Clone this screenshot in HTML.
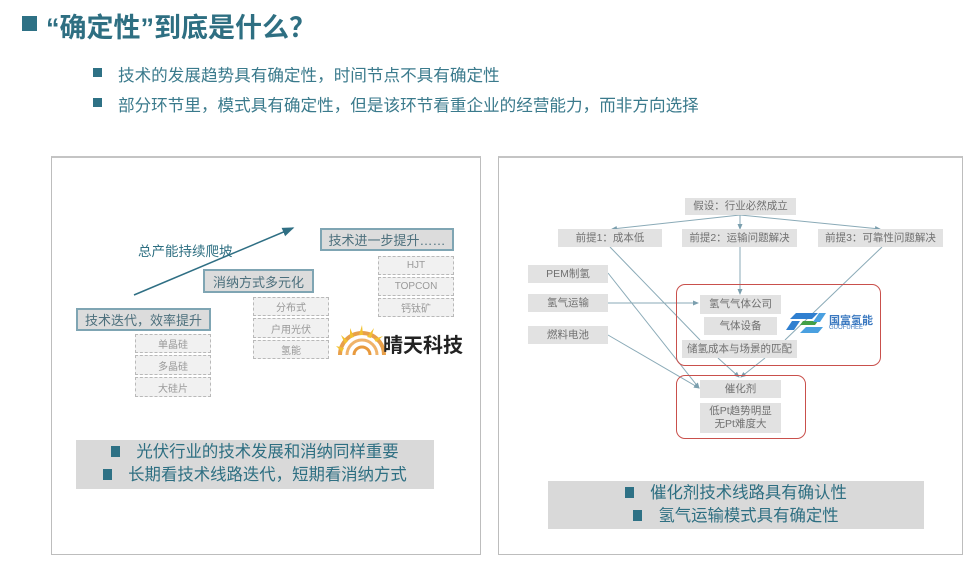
<!DOCTYPE html>
<html><head><meta charset="utf-8"><style>
*{margin:0;padding:0;box-sizing:border-box}
body{width:980px;height:567px;background:#fff;position:relative;overflow:hidden;font-family:"Liberation Sans","Noto Sans CJK SC",sans-serif}
.a{position:absolute}
.sq{position:absolute;background:#2e7185}
.panel{position:absolute;border:1px solid #bdbdbd;border-top:2px solid #c4c4c4;background:#fff}
.bx{position:absolute;background:#dcdcdc;border:2px solid #7fa5b3;color:#4c6f7c;font-size:13px;display:flex;align-items:center;justify-content:center}
.db{position:absolute;background:#f1f1f1;border:1px dashed #b9b9b9;color:#999;font-size:10px;display:flex;align-items:center;justify-content:center}
.g{position:absolute;background:#e2e2e2;color:#707070;font-size:10.5px;display:flex;align-items:center;justify-content:center;text-align:center;line-height:13px}
.red{position:absolute;border:1.5px solid #c9504c;border-radius:9px}
.sum{position:absolute;background:#d9d9d9;color:#2e6f82;font-size:16.4px;line-height:23px;text-align:center}
.sum i{display:inline-block;width:9px;height:11px;background:#2e7185;margin-right:16px;vertical-align:0px}
</style></head><body>
<div class="sq" style="left:22px;top:16px;width:15px;height:15px"></div>
<div class="a" style="left:46px;top:6px;font-size:27px;font-weight:bold;color:#2e6f82">“确定性”到底是什么？</div>
<div class="sq" style="left:93px;top:68px;width:9px;height:9px"></div>
<div class="a" style="left:118px;top:62px;font-size:16.6px;color:#3a7a8c">技术的发展趋势具有确定性，时间节点不具有确定性</div>
<div class="sq" style="left:93px;top:98px;width:9px;height:9px"></div>
<div class="a" style="left:118px;top:92px;font-size:16.6px;color:#3a7a8c">部分环节里，模式具有确定性，但是该环节看重企业的经营能力，而非方向选择</div>

<div class="panel" style="left:51px;top:156px;width:430px;height:399px"></div>
<div class="panel" style="left:498px;top:156px;width:465px;height:399px"></div>

<svg class="a" style="left:0;top:0" width="980" height="567">
<defs><marker id="m" markerWidth="8" markerHeight="8" refX="7" refY="4" orient="auto"><path d="M0,1 L8,4 L0,7z" fill="#2f6f84"/></marker>
<marker id="s" markerWidth="6" markerHeight="6" refX="5" refY="3" orient="auto"><path d="M0,0.5 L6,3 L0,5.5z" fill="#7b9fae"/></marker></defs>
<line x1="134" y1="295" x2="293" y2="228" stroke="#2f6f84" stroke-width="1.5" marker-end="url(#m)"/>
<g stroke="#8aaab7" stroke-width="1" fill="none">
<line x1="740" y1="215" x2="612" y2="229" marker-end="url(#s)"/>
<line x1="740" y1="215" x2="740" y2="229" marker-end="url(#s)"/>
<line x1="740" y1="215" x2="880" y2="229" marker-end="url(#s)"/>
<line x1="740" y1="247" x2="740" y2="294" marker-end="url(#s)"/>
<line x1="610" y1="247" x2="700" y2="340"/>
<line x1="882" y1="247" x2="785" y2="340"/>
<line x1="608" y1="303" x2="698" y2="303" marker-end="url(#s)"/>
<line x1="608" y1="273" x2="699" y2="388" marker-end="url(#s)"/>
<line x1="608" y1="335" x2="699" y2="388" marker-end="url(#s)"/>
<line x1="718" y1="358" x2="739" y2="377" marker-end="url(#s)"/>
<line x1="765" y1="358" x2="741" y2="377" marker-end="url(#s)"/>
</g>
<g>
<path d="M340,355 A22,22 0 0 1 384,355" fill="none" stroke="#e8a04a" stroke-width="4"/>
<path d="M347,355 A15,15 0 0 1 377,355" fill="none" stroke="#f0b36a" stroke-width="3"/>
<path d="M354,355 A8,8 0 0 1 370,355" fill="none" stroke="#e89a3e" stroke-width="3"/>
<g fill="#f2c230"><polygon points="336,346 344,348 342,352"/><polygon points="341,335 348,341 345,344"/><polygon points="350,328 354,337 350,338"/><polygon points="362,325 363,335 359,335"/><polygon points="374,328 371,338 367,337"/><polygon points="383,336 376,342 374,339"/></g>
</g>
<g>
<polygon points="796,313 818,313 812,319 790,319" fill="#2f7fd0"/>
<polygon points="792,321 800,321 794,330 786,330" fill="#2f7fd0"/>
<polygon points="803,321 818,321 815,325 800,325" fill="#43a047"/>
<polygon points="806,327 823,327 818,333 800,333" fill="#4aa0e0"/>
<polygon points="819,313 826,313 820,322 813,322" fill="#4aa0e0"/>
</g>
</svg>
<div class="a" style="left:829px;top:312px;font-size:11px;font-weight:bold;color:#3a78c0;letter-spacing:0">国富氢能</div>
<div class="a" style="left:829px;top:325px;font-size:6px;color:#3a78c0">GUOFUHEE</div>
<div class="a" style="left:383px;top:329px;font-size:20px;font-weight:bold;color:#222">晴天科技</div>

<div class="a" style="left:138px;top:240px;font-size:13.5px;color:#2e6f82">总产能持续爬坡</div>
<div class="bx" style="left:320px;top:228px;width:134px;height:23px">技术进一步提升……</div>
<div class="db" style="left:378px;top:256px;width:76px;height:19px">HJT</div>
<div class="db" style="left:378px;top:277px;width:76px;height:19px">TOPCON</div>
<div class="db" style="left:378px;top:298px;width:76px;height:19px">钙钛矿</div>
<div class="bx" style="left:203px;top:269px;width:111px;height:24px">消纳方式多元化</div>
<div class="db" style="left:253px;top:297px;width:76px;height:19px">分布式</div>
<div class="db" style="left:253px;top:318px;width:76px;height:20px">户用光伏</div>
<div class="db" style="left:253px;top:340px;width:76px;height:19px">氢能</div>
<div class="bx" style="left:76px;top:308px;width:135px;height:23px">技术迭代，效率提升</div>
<div class="db" style="left:135px;top:334px;width:76px;height:19px">单晶硅</div>
<div class="db" style="left:135px;top:355px;width:76px;height:20px">多晶硅</div>
<div class="db" style="left:135px;top:377px;width:76px;height:20px">大硅片</div>
<div class="sum" style="left:76px;top:440px;width:358px;height:49px;padding-top:1px"><i></i>光伏行业的技术发展和消纳同样重要<br><i></i>长期看技术线路迭代，短期看消纳方式</div>

<div class="red" style="left:676px;top:284px;width:205px;height:82px"></div>
<div class="red" style="left:676px;top:375px;width:130px;height:64px"></div>
<div class="g" style="left:685px;top:198px;width:111px;height:17px">假设：行业必然成立</div>
<div class="g" style="left:558px;top:229px;width:104px;height:18px">前提1：成本低</div>
<div class="g" style="left:682px;top:229px;width:115px;height:18px">前提2：运输问题解决</div>
<div class="g" style="left:818px;top:229px;width:125px;height:18px">前提3：可靠性问题解决</div>
<div class="g" style="left:528px;top:265px;width:80px;height:18px">PEM制氢</div>
<div class="g" style="left:528px;top:294px;width:80px;height:18px">氢气运输</div>
<div class="g" style="left:528px;top:326px;width:80px;height:18px">燃料电池</div>
<div class="g" style="left:700px;top:295px;width:81px;height:19px">氢气气体公司</div>
<div class="g" style="left:704px;top:317px;width:73px;height:18px">气体设备</div>
<div class="g" style="left:682px;top:340px;width:115px;height:18px">储氢成本与场景的匹配</div>
<div class="g" style="left:700px;top:380px;width:81px;height:18px">催化剂</div>
<div class="g" style="left:700px;top:403px;width:81px;height:30px">低Pt趋势明显<br>无Pt难度大</div>
<div class="sum" style="left:548px;top:481px;width:376px;height:48px;padding-top:1px"><i></i>催化剂技术线路具有确认性<br><i></i>氢气运输模式具有确定性</div>
</body></html>
